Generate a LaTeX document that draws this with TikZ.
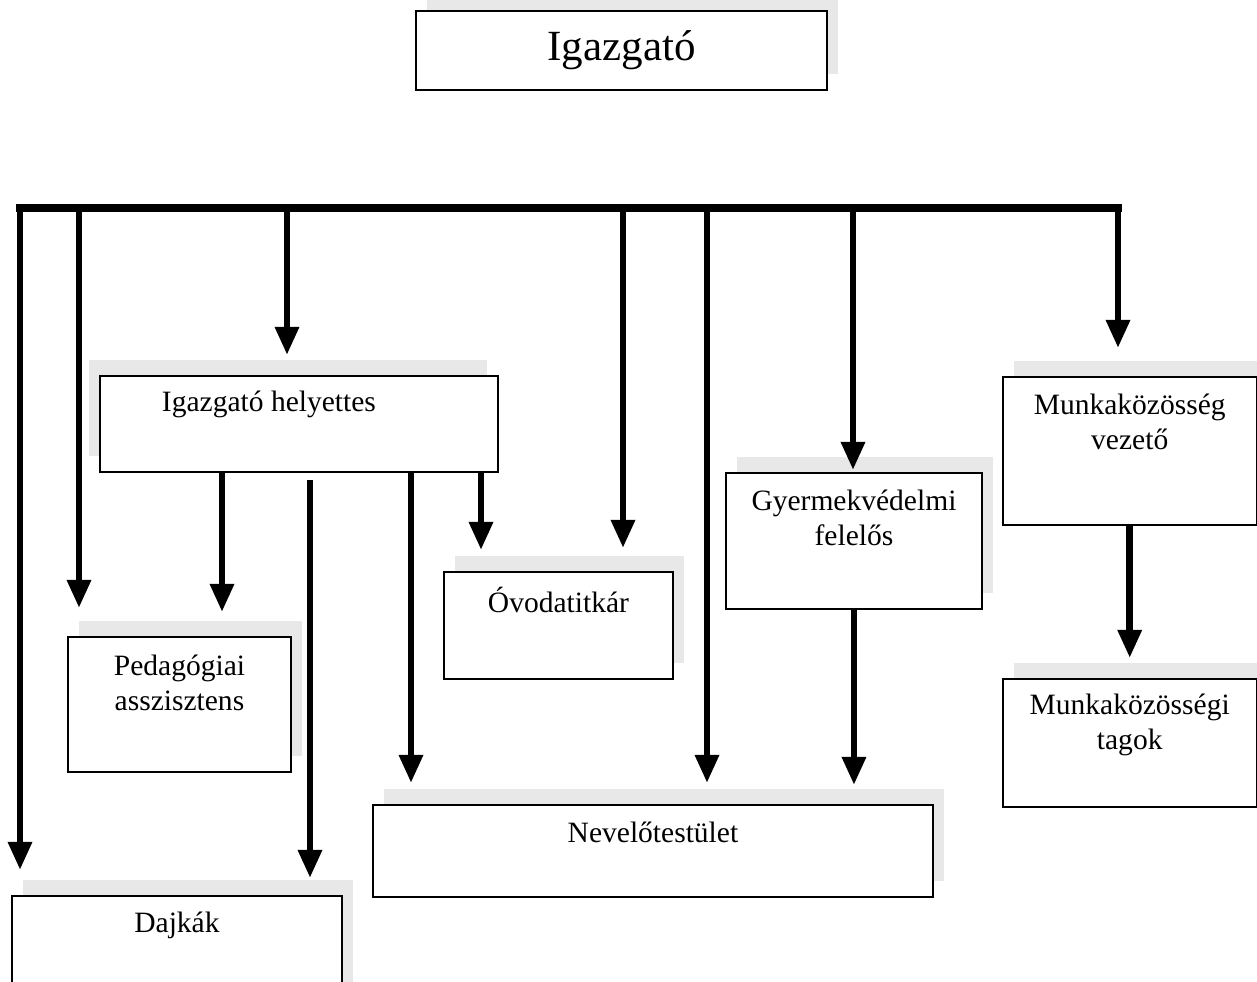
\documentclass[tikz,border=0pt]{standalone}
\usepackage{fontspec}
\setmainfont{Liberation Serif}
\usetikzlibrary{arrows.meta, shadows}

\begin{document}
\begin{tikzpicture}[
    font=\fontsize{16.8}{20}\selectfont,
    box/.style={
        draw=black,
        line width=1.1pt,
        rectangle,
        fill=white,
        anchor=north west,
        inner sep=0pt,
        drop shadow={fill=black!9, opacity=1, shadow xshift=#1, shadow yshift=0.32cm}
    },
    box/.default=0.22cm,
    boxtext/.style={align=center, inner sep=0pt},
    arrow/.style={-{Triangle[length=16pt, width=13pt]}, line width=3.8pt, shorten >=0.45cm},
    bus/.style={line width=4.2pt, line cap=rect}
]
    \useasboundingbox (0,0) rectangle (25.14,-19.64);
    \clip (0,0) rectangle (25.14,-19.64);

    % Nodes
    \node[box, anchor=center, minimum width=8.22cm, minimum height=1.58cm, font=\fontsize{24.5}{28}\selectfont] (boss) at (12.43,-1.01) {Igazgató};

    \node[box=-0.22cm, minimum width=7.96cm, minimum height=1.92cm] (deputy) at (1.98,-7.5) {};
    \node[box, minimum width=4.46cm, minimum height=2.70cm] (assistant) at (1.34,-12.72) {};
    \node[box, minimum width=4.58cm, minimum height=2.14cm] (secretary) at (8.86,-11.42) {};
    \node[box, minimum width=11.2cm, minimum height=1.84cm] (staff) at (7.44,-16.08) {};
    \node[box, minimum width=6.6cm, minimum height=2.2cm] (nannies) at (0.22,-17.9) {};
    \node[box, minimum width=5.12cm, minimum height=2.72cm] (childprot) at (14.5,-9.44) {};
    \node[box, minimum width=5.07cm, minimum height=2.96cm] (wglead) at (20.04,-7.52) {};
    \node[box, minimum width=5.07cm, minimum height=2.56cm] (wgmembers) at (20.04,-13.56) {};

    % Texts
    \node[boxtext] (deputy-text) at ([xshift=-0.6cm, yshift=-0.58cm]deputy.north) {Igazgató helyettes};
    \node[boxtext] (assistant-text) at ([yshift=-0.93cm]assistant.north) {Pedagógiai\\asszisztens};
    \node[boxtext] (secretary-text) at ([yshift=-0.58cm]secretary.north) {Óvodatitkár};
    \node[boxtext] (staff-text) at ([yshift=-0.56cm]staff.north) {Nevelőtestület};
    \node[boxtext] (nannies-text) at ([yshift=-0.6cm]nannies.north) {Dajkák};
    \node[boxtext] (childprot-text) at ([yshift=-0.91cm]childprot.north) {Gyermekvédelmi\\felelős};
    \node[boxtext] (wglead-text) at ([yshift=-0.91cm]wglead.north) {Munkaközösség\\vezető};
    \node[boxtext] (wgmembers-text) at ([yshift=-0.94cm]wgmembers.north) {Munkaközösségi\\tagok};

    % Bus
    \coordinate (bus-west) at (0.4,-4.16);
    \coordinate (bus-1) at (1.58,-4.16);
    \coordinate (bus-2) at (5.74,-4.16);
    \coordinate (bus-3) at (12.46,-4.16);
    \coordinate (bus-4) at (14.14,-4.16);
    \coordinate (bus-5) at (17.06,-4.16);
    \coordinate (bus-east) at (22.36,-4.16);

    \coordinate (deputy-1) at ([xshift=2.46cm]deputy.south west);
    \coordinate (deputy-2) at ([xshift=4.22cm, yshift=-0.14cm]deputy.south west);
    \coordinate (deputy-3) at ([xshift=6.24cm]deputy.south west);
    \coordinate (deputy-4) at ([xshift=7.64cm]deputy.south west);

    % Edges
    \draw[arrow, shorten >=0.5cm] (bus-west) -- (bus-west |- nannies.north);
    \draw[arrow, shorten >=0.56cm] (bus-1) -- (bus-1 |- assistant.north);
    \draw[arrow, shorten >=0.4cm] (bus-2) -- (bus-2 |- deputy.north);
    \draw[arrow, shorten >=0.46cm] (bus-3) -- (bus-3 |- secretary.north);
    \draw[arrow, shorten >=0.42cm] (bus-4) -- (bus-4 |- staff.north);
    \draw[arrow, shorten >=0.04cm] (bus-5) -- (bus-5 |- childprot.north);
    \draw[arrow, shorten >=0.56cm] (bus-east) -- (bus-east |- wglead.north);
    \draw[bus] (bus-west) -- (bus-east);

    \draw[arrow, shorten >=0.48cm] (deputy-1) -- (deputy-1 |- assistant.north);
    \draw[arrow, shorten >=0.34cm] (deputy-2) -- (deputy-2 |- nannies.north);
    \draw[arrow, shorten >=0.42cm] (deputy-3) -- (deputy-3 |- staff.north);
    \draw[arrow, shorten >=0.42cm] (deputy-4) -- (deputy-4 |- secretary.north);
    \draw[arrow, shorten >=0.38cm] (childprot.south) -- (childprot.south |- staff.north);
    \draw[arrow, shorten >=0.4cm] (wglead.south) -- (wgmembers.north);

\end{tikzpicture}
\end{document}
